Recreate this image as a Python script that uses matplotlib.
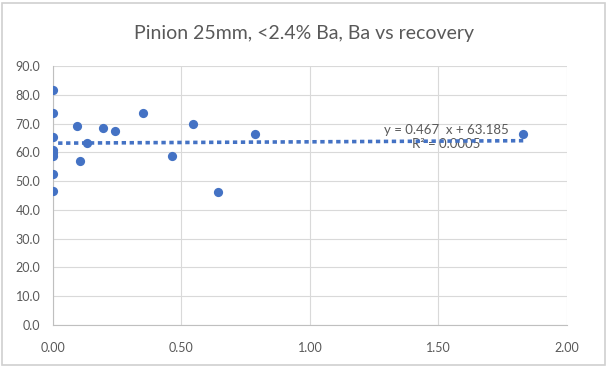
import matplotlib
matplotlib.use("Agg")
import matplotlib.pyplot as plt
import numpy as np
from matplotlib.patches import Rectangle

ba = [0.0, 0.0, 0.0, 0.0, 0.0, 0.0, 0.0, 0.0, 0.095, 0.105, 0.131, 0.196, 0.24,
      0.349, 0.463, 0.544, 0.642, 0.787, 1.83]
recovery = [81.5, 73.5, 65.4, 60.7, 59.8, 58.8, 52.6, 46.5, 69.0, 57.0, 63.1, 68.6, 67.3,
            73.6, 58.7, 69.9, 46.3, 66.2, 66.5]
slope = 0.467
intercept = 63.185
x_ticks = [0.0, 0.5, 1.0, 1.5, 2.0]
y_ticks = [0, 10, 20, 30, 40, 50, 60, 70, 80, 90]
title = "Pinion 25mm, <2.4% Ba, Ba vs recovery"
eq_text = "y = 0.467  x + 63.185"
r2_text = "R² = 0.0005"

plt.rcParams['font.family'] = ['Lato', 'DejaVu Sans']
fig = plt.figure(figsize=(6.07, 3.68), dpi=100)
fig.patches.append(Rectangle((0.003, 0.008), 0.993, 0.985, transform=fig.transFigure,
                             fill=False, edgecolor='#d0d0d0', linewidth=1.2))
ax = fig.add_axes([0.0873, 0.1168, 0.8467, 0.7039])

blue = '#4472C4'
ax.scatter(ba, recovery, s=44, color=blue, zorder=3, linewidths=0)
xs = np.array([min(ba) + 0.02, max(ba)])
ax.plot(xs, slope * xs + intercept, linestyle=(0, (1.2, 1.0)), color=blue, linewidth=2.6, zorder=2)

ax.text(1.53, 62.9, r2_text, ha='center', va='center', fontsize=9.5, color='#595959', zorder=1)
ax.text(1.53, 67.6, eq_text, ha='center', va='center', fontsize=9.5, color='#595959', zorder=4)

ax.set_xlim(0, 2.0)
ax.set_ylim(0, 90)
ax.set_xticks(x_ticks)
ax.set_yticks(y_ticks)
ax.set_xticklabels([f"{v:.2f}" for v in x_ticks])
ax.set_yticklabels([f"{v:.1f}" for v in y_ticks])
ax.grid(True, color='#d9d9d9', linewidth=0.8)
ax.set_axisbelow(True)
for s in ['top', 'right']:
    ax.spines[s].set_visible(False)
ax.spines['left'].set_color('#bfbfbf')
ax.spines['bottom'].set_color('#bfbfbf')
ax.tick_params(length=0, labelsize=9, colors='#595959', pad=9)
ax.tick_params(axis='x', pad=12)

fig.text(0.5, 0.91, title, ha='center', va='center', fontsize=14, color='#595959')
fig.savefig('out.png', dpi=100)
